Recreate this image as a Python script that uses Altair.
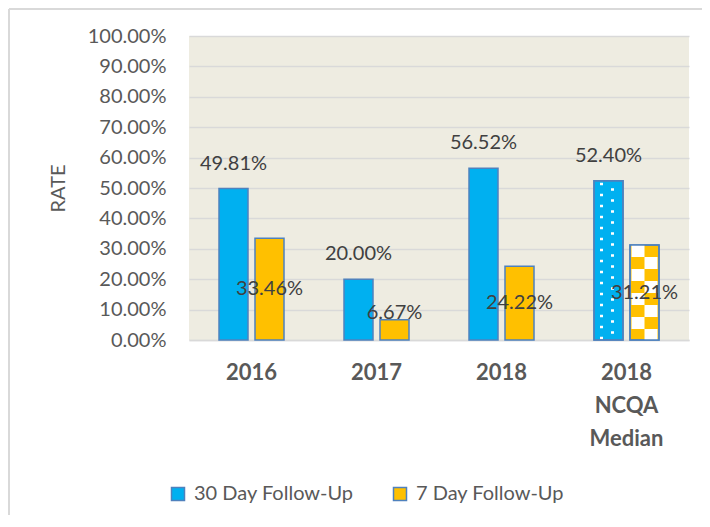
import altair as alt
import pandas as pd

CATEGORIES = ["2016", "2017", "2018", "2018|NCQA|Median"]
SERIES = ["30 Day Follow-Up", "7 Day Follow-Up"]
RATE_30 = [0.4981, 0.2000, 0.5652, 0.5240]
RATE_7 = [0.3346, 0.0667, 0.2422, 0.3121]
Y_TICKS = [0.0, 0.1, 0.2, 0.3, 0.4, 0.5, 0.6, 0.7, 0.8, 0.9, 1.0]
COLORS = ["#00B0F0", "#FFC000"]
PATTERN_CATEGORY = "2018|NCQA|Median"

rows = []
for c, a, b in zip(CATEGORIES, RATE_30, RATE_7):
    rows.append({"category": c, "series": SERIES[0], "rate": a})
    rows.append({"category": c, "series": SERIES[1], "rate": b})
df = pd.DataFrame(rows)

EDGE = "#4F81BD"
TXT = "#595959"

x = alt.X(
    "category:N", sort=CATEGORIES, title=None,
    scale=alt.Scale(paddingInner=0.48, paddingOuter=0.24),
    axis=alt.Axis(labelExpr="split(datum.label, '|')", labelFont="Lato",
                  labelFontWeight="bold", labelFontSize=22, labelColor=TXT,
                  labelLineHeight=33, labelPadding=22, ticks=False,
                  domainColor="#D9D9D9", domainWidth=1.5, labelAngle=0),
)
xo = alt.XOffset("series:N", sort=SERIES,
                 scale=alt.Scale(paddingInner=0.1944, paddingOuter=0))


def yenc(field):
    return alt.Y(
        field, scale=alt.Scale(domain=[0, 1]),
        axis=alt.Axis(values=Y_TICKS, format=".2%", title="RATE",
                      labelFont="Lato", labelFontSize=20, labelColor=TXT,
                      labelPadding=23, ticks=False, domain=False,
                      gridColor="#D9D9D9", gridWidth=1.5,
                      titleFont="Lato", titleFontSize=20, titleFontWeight="normal",
                      titleColor=TXT, titlePadding=19),
    )


base = alt.Chart(df)

bars = base.mark_bar(stroke=EDGE, strokeWidth=1.5).encode(
    x=x, xOffset=xo, y=yenc("rate:Q"),
    color=alt.Color(
        "series:N", sort=SERIES,
        scale=alt.Scale(domain=SERIES, range=COLORS),
        legend=alt.Legend(orient="none", legendX=-21, legendY=448,
                          direction="horizontal", title=None,
                          symbolType="square", symbolSize=169,
                          symbolStrokeWidth=1.5, symbolStrokeColor=EDGE,
                          labelFont="Lato", labelFontSize=20, labelColor=TXT,
                          columnPadding=36, labelOffset=6),
    ),
)

ncqa = base.transform_filter(alt.datum.category == PATTERN_CATEGORY).transform_calculate(zero="0")

# dotted pattern (30 day, NCQA median)
dots_a = ncqa.transform_filter(alt.datum.series == SERIES[0]).mark_rule(
    xOffset=-25, stroke="white", strokeWidth=3, strokeDash=[2.5, 8.5], strokeDashOffset=9
).encode(x=x, y=yenc("rate:Q"), y2="zero:Q")
dots_b = ncqa.transform_filter(alt.datum.series == SERIES[0]).mark_rule(
    xOffset=-14, stroke="white", strokeWidth=3, strokeDash=[2.5, 8.5], strokeDashOffset=3.5
).encode(x=x, y=yenc("rate:Q"), y2="zero:Q")

# checker pattern (7 day, NCQA median)
chk_a = ncqa.transform_filter(alt.datum.series == SERIES[1]).mark_rule(
    xOffset=11.5, stroke="white", strokeWidth=13, strokeDash=[12, 12], strokeDashOffset=0
).encode(x=x, y=yenc("rate:Q"), y2="zero:Q")
chk_b = ncqa.transform_filter(alt.datum.series == SERIES[1]).mark_rule(
    xOffset=24.5, stroke="white", strokeWidth=13, strokeDash=[12, 12], strokeDashOffset=12
).encode(x=x, y=yenc("rate:Q"), y2="zero:Q")

outline = ncqa.mark_bar(fillOpacity=0, stroke=EDGE, strokeWidth=1.5).encode(
    x=x, xOffset=xo, y=yenc("rate:Q")
)

lab30 = base.transform_filter(alt.datum.series == SERIES[0]).mark_text(
    font="Lato", fontSize=20, color="#404040", dy=-25
).encode(x=x, xOffset=xo, y=yenc("rate:Q"), text=alt.Text("rate:Q", format=".2%"))

lab7 = base.transform_filter(alt.datum.series == SERIES[1]).transform_calculate(
    label_y="datum.rate < 0.15 ? datum.rate + 0.023 : datum.rate / 2"
).mark_text(font="Lato", fontSize=20, color="#404040").encode(
    x=x, xOffset=xo, y=yenc("label_y:Q"), text=alt.Text("rate:Q", format=".2%")
)

frame_df = pd.DataFrame({"k": [0]})
frame_left = alt.Chart(frame_df).mark_rule(color="#D9D9D9", strokeWidth=2).encode(
    x=alt.value(-180), y=alt.value(-27), y2=alt.value(520)
)
frame_top = alt.Chart(frame_df).mark_rule(color="#D9D9D9", strokeWidth=2).encode(
    x=alt.value(-180), x2=alt.value(560), y=alt.value(-27)
)

chart = alt.layer(
    bars, dots_a, dots_b, chk_a, chk_b, outline, lab30, lab7, frame_left, frame_top
).properties(
    width=500, height=304,
    padding={"left": 181, "top": 28, "right": 13, "bottom": 175},
    autosize=alt.AutoSizeParams(type="none"),
).configure(
    font="Lato", background="white"
).configure_view(fill="#EEECE1", stroke=None)

chart.save("out.html", embed_options={"renderer": "svg", "actions": False})
